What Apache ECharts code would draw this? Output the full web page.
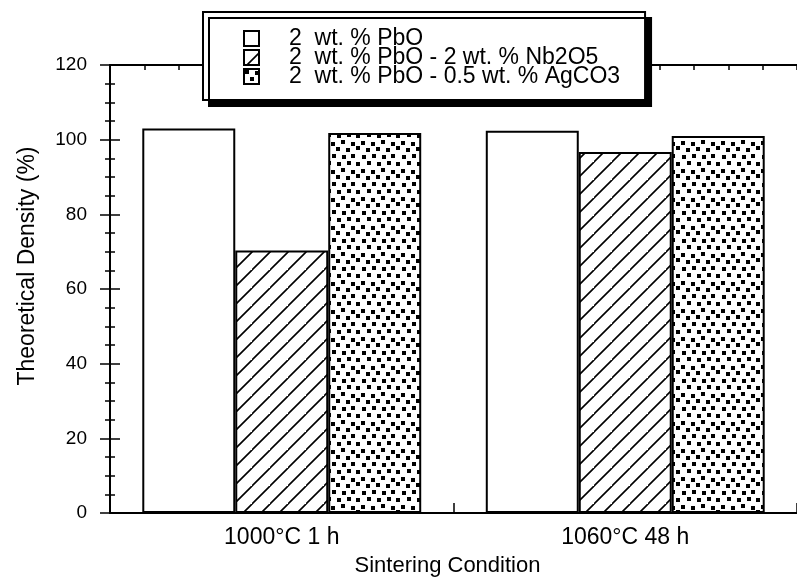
<!DOCTYPE html>
<html>
<head>
<meta charset="utf-8">
<script src="https://cdn.jsdelivr.net/npm/echarts@6/dist/echarts.min.js"></script>
<style>
html,body{margin:0;padding:0;background:#fff;}
#chart{width:797px;height:583px;}
</style>
</head>
<body>
<div id="chart"></div>
<script>
// ---- data ----
const categories = ['1000°C 1 h', '1060°C 48 h'];
const seriesNames = ['2  wt. % PbO', '2  wt. % PbO - 2 wt. % Nb2O5', '2  wt. % PbO - 0.5 wt. % AgCO3'];
const pboValues = [103.0, 102.4];
const nbValues = [70.3, 96.7];
const agValues = [101.8, 101.0];
const yMin = 0, yMax = 120, yStep = 20;
const xTitle = 'Sintering Condition';
const yTitle = 'Theoretical Density (%)';

// ---- patterns ----
function hatchPattern() {
  const s = 18, c = document.createElement('canvas');
  c.width = s; c.height = s;
  const g = c.getContext('2d');
  g.fillStyle = '#fff'; g.fillRect(0, 0, s, s);
  g.strokeStyle = '#000'; g.lineWidth = 1.6;
  g.beginPath();
  g.moveTo(-2, s + 2); g.lineTo(s + 2, -2);
  g.moveTo(-2 - s, s + 2); g.lineTo(2, -2);
  g.moveTo(s - 2, 2 * s + 2); g.lineTo(2 * s + 2, s - 2);
  g.stroke();
  return c;
}
function dotPattern() {
  const w = 40, h = 28, c = document.createElement('canvas');
  c.width = w; c.height = h;
  const g = c.getContext('2d');
  g.fillStyle = '#fff'; g.fillRect(0, 0, w, h);
  g.fillStyle = '#000';
  const pts = [[1,1],[11,2],[21,0],[31,2],[6,8],[16,7],[26,8],[36,6],
               [2,15],[12,14],[22,15],[31,14],[7,21],[17,22],[27,21],[36,22]];
  pts.forEach(p => g.fillRect(p[0], p[1], 4, 4));
  return c;
}

const FONT = '"Liberation Sans", Arial, Helvetica, sans-serif';
const chart = echarts.init(document.getElementById('chart'));

function barSeries(name, data, fill) {
  return {
    name: name, type: 'bar', data: data,
    xAxisIndex: 0, yAxisIndex: 0,
    barGap: '0%', barCategoryGap: '18.8%',
    itemStyle: { color: fill, borderColor: '#000', borderWidth: 2 },
    emphasis: { disabled: true },
    animation: false
  };
}

chart.setOption({
  animation: false,
  backgroundColor: '#fff',
  textStyle: { fontFamily: FONT },
  grid: { left: 110, right: -3, top: 65, bottom: 70 },
  legend: {
    orient: 'vertical',
    left: 203, top: 12,
    padding: [15, 25, 12, 40],
    itemWidth: 15, itemHeight: 15, itemGap: -4,
    icon: 'rect',
    backgroundColor: '#fff',
    borderColor: '#000', borderWidth: 2,
    shadowColor: '#000', shadowBlur: 0, shadowOffsetX: 6, shadowOffsetY: 6,
    textStyle: { fontFamily: FONT, fontSize: 23, color: '#000', padding: [0, 0, 0, 25] },
    selectedMode: false,
    data: seriesNames
  },
  xAxis: [
    {
      type: 'category', data: categories, position: 'bottom',
      axisLine: { show: true, lineStyle: { color: '#000', width: 2 } },
      axisTick: { show: true, inside: true, length: 10, lineStyle: { color: '#000', width: 1.5 } },
      axisLabel: { fontFamily: FONT, fontSize: 23, color: '#000', margin: 13 },
      name: xTitle, nameLocation: 'middle', nameGap: 42,
      nameTextStyle: { fontFamily: FONT, fontSize: 22, color: '#000', padding: [0, 12, 0, 0] }
    },
    {
      type: 'value', min: 0, max: 20, interval: 1, position: 'bottom',
      axisLine: { show: false }, axisLabel: { show: false }, splitLine: { show: false },
      axisTick: { show: true, inside: true, length: 5, lineStyle: { color: '#000', width: 1.5 } }
    },
    {
      type: 'value', min: 0, max: 20, interval: 1, position: 'top',
      axisLine: { show: true, lineStyle: { color: '#000', width: 2 } },
      axisLabel: { show: false }, splitLine: { show: false },
      axisTick: { show: true, inside: true, length: 5, lineStyle: { color: '#000', width: 1.5 } }
    }
  ],
  yAxis: [
    {
      type: 'value', min: yMin, max: yMax, interval: yStep, position: 'left',
      axisLine: { show: true, lineStyle: { color: '#000', width: 2 } },
      axisTick: { show: true, inside: true, length: 10, lineStyle: { color: '#000', width: 1.5 } },
      minorTick: { show: true, splitNumber: 4, length: 5, lineStyle: { color: '#000', width: 1.5 } },
      splitLine: { show: false },
      axisLabel: { fontFamily: FONT, fontSize: 19, color: '#000', margin: 23 },
      name: yTitle, nameLocation: 'middle', nameGap: 71,
      nameTextStyle: { fontFamily: FONT, fontSize: 23, color: '#000', padding: [0, 0, 0, 46] }
    },
    {
      type: 'value', min: yMin, max: yMax, interval: yStep, position: 'right',
      axisLine: { show: true, lineStyle: { color: '#000', width: 2 } },
      axisTick: { show: true, inside: true, length: 10, lineStyle: { color: '#000', width: 1.5 } },
      minorTick: { show: true, splitNumber: 4, length: 5, lineStyle: { color: '#000', width: 1.5 } },
      splitLine: { show: false },
      axisLabel: { show: false }
    }
  ],
  series: [
    barSeries(seriesNames[0], pboValues, '#fff'),
    barSeries(seriesNames[1], nbValues, { image: hatchPattern(), repeat: 'repeat' }),
    barSeries(seriesNames[2], agValues, { image: dotPattern(), repeat: 'repeat' })
  ]
});
</script>
</body>
</html>
